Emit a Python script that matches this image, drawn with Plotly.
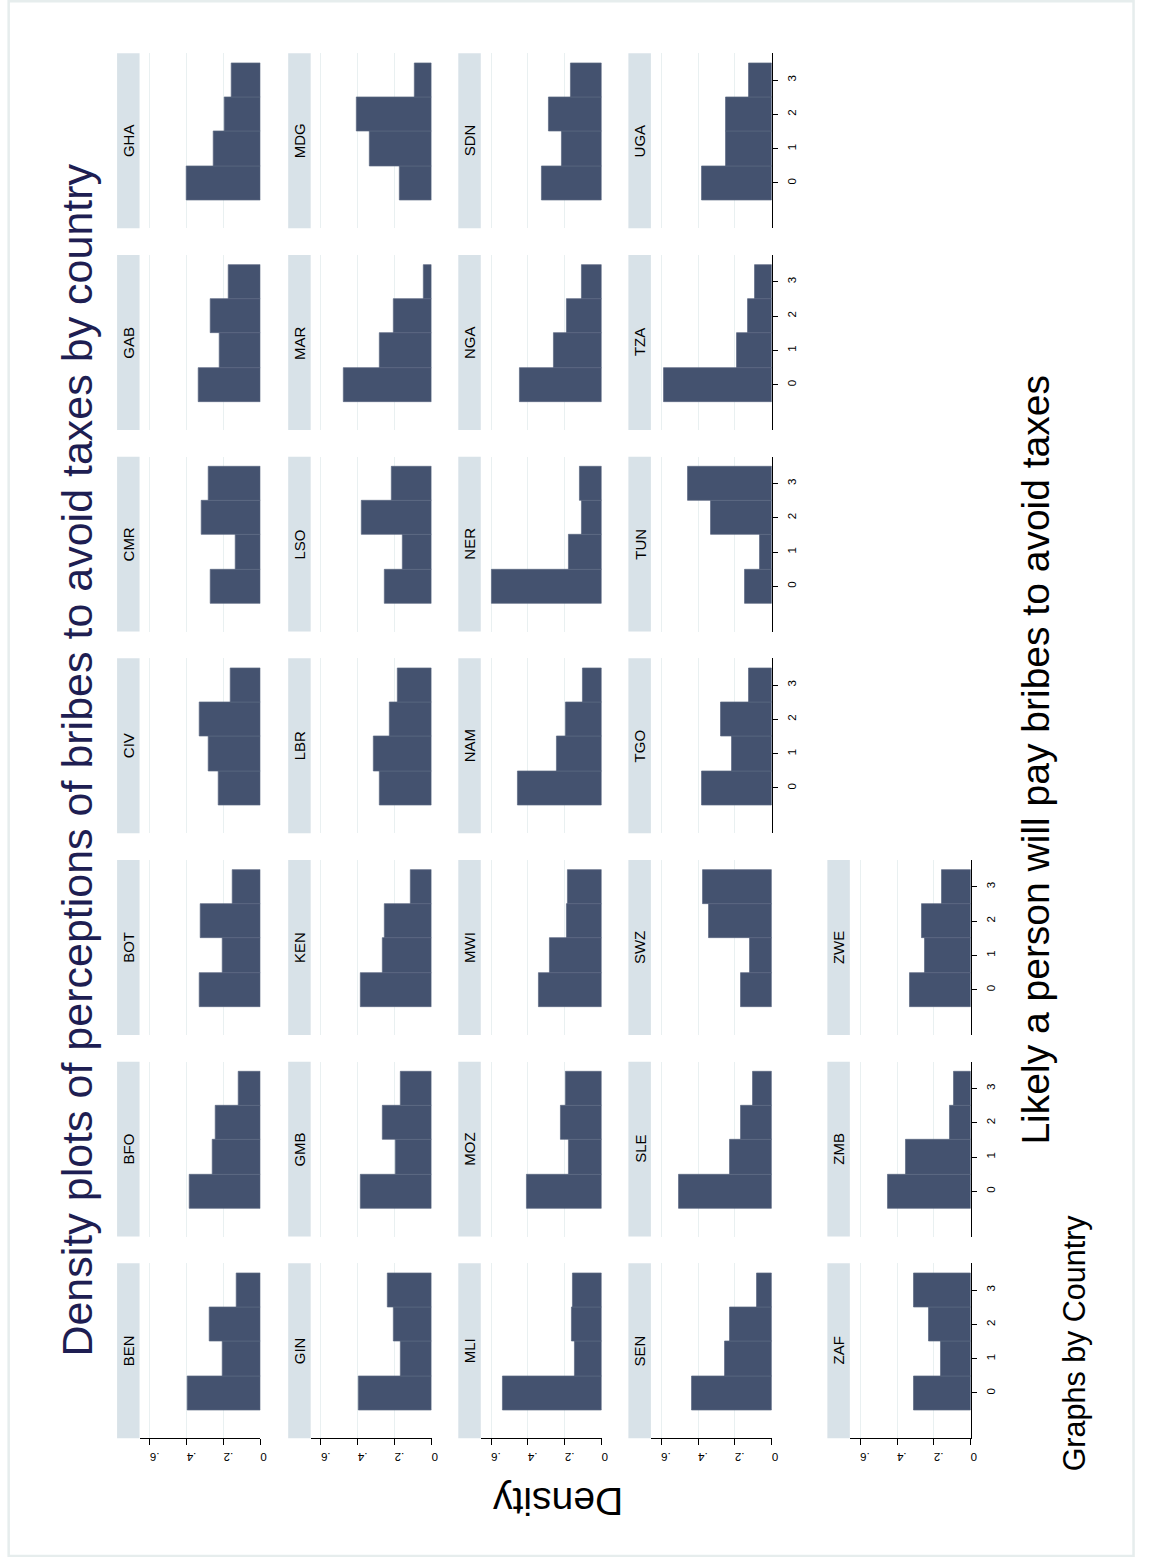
import plotly.graph_objects as go

# Survey answer bins (x of each histogram) and tick labels
bins = [0, 1, 2, 3]
bin_ticks = ["0", "1", "2", "3"]
density_ticks = [0, 0.2, 0.4, 0.6]
density_ticktext = ["0", ".2", ".4", ".6"]

countries = [
    "BEN", "BFO", "BOT", "CIV", "CMR", "GAB", "GHA",
    "GIN", "GMB", "KEN", "LBR", "LSO", "MAR", "MDG",
    "MLI", "MOZ", "MWI", "NAM", "NER", "NGA", "SDN",
    "SEN", "SLE", "SWZ", "TGO", "TUN", "TZA", "UGA",
    "ZAF", "ZMB", "ZWE",
]

# Density of each answer bin, aligned with `countries`
density_bin0 = [0.395, 0.384, 0.328, 0.227, 0.272, 0.337, 0.400,
                0.398, 0.384, 0.384, 0.281, 0.254, 0.475, 0.174,
                0.534, 0.405, 0.342, 0.455, 0.597, 0.443, 0.324,
                0.435, 0.505, 0.167, 0.377, 0.146, 0.586, 0.377,
                0.307, 0.449, 0.330]
density_bin1 = [0.205, 0.258, 0.205, 0.281, 0.135, 0.222, 0.256,
                0.168, 0.192, 0.263, 0.315, 0.158, 0.281, 0.337,
                0.147, 0.176, 0.283, 0.246, 0.181, 0.258, 0.217,
                0.255, 0.226, 0.117, 0.214, 0.065, 0.190, 0.248,
                0.162, 0.352, 0.251]
density_bin2 = [0.274, 0.243, 0.323, 0.330, 0.321, 0.270, 0.193,
                0.204, 0.263, 0.254, 0.228, 0.378, 0.203, 0.409,
                0.161, 0.224, 0.190, 0.195, 0.109, 0.188, 0.289,
                0.225, 0.165, 0.341, 0.277, 0.332, 0.131, 0.248,
                0.226, 0.111, 0.264]
density_bin3 = [0.130, 0.117, 0.150, 0.160, 0.279, 0.175, 0.157,
                0.240, 0.167, 0.111, 0.183, 0.215, 0.043, 0.090,
                0.159, 0.197, 0.186, 0.102, 0.116, 0.109, 0.167,
                0.081, 0.104, 0.376, 0.126, 0.455, 0.090, 0.124,
                0.307, 0.090, 0.158]

W, H = 1149, 1557
BAR = "#44526f"
BAR_EDGE = "#5a6781"
STRIP = "#d8e2e8"
GRID = "#e9f0f1"
FONT = "Liberation Sans, Arial, Helvetica, sans-serif"


def px_x(x):
    return x / W


def px_y(y):
    return 1 - y / H


# Panel placement (page is laid out sideways: original rows run left→right,
# original columns run bottom→top)
plot_left = [140.3, 312.3, 483.3, 654.3, 854.3]
plot_width = 121.5
strip_width = 22.6
unit_px = 201.67          # vertical pitch between panels
zero_first = 1393.0       # pixel row of bin 0 in the lowest panels
ppu = 34.3                # pixels per bin along the value axis
val_range = [-1.32, 3.78]
dens_range = [0.656, 0]

fig = go.Figure()
shapes = []
annotations = []
layout_axes = {}

for i, name in enumerate(countries):
    r, c = divmod(i, 7)
    n = i + 1
    xa = "x" if n == 1 else f"x{n}"
    ya = "y" if n == 1 else f"y{n}"
    xkey = "xaxis" if n == 1 else f"xaxis{n}"
    ykey = "yaxis" if n == 1 else f"yaxis{n}"

    left = plot_left[r]
    right = left + plot_width
    zero_y = zero_first - unit_px * c
    top = zero_y - val_range[1] * ppu
    bottom = zero_y - val_range[0] * ppu

    vals = [density_bin0[i], density_bin1[i], density_bin2[i], density_bin3[i]]
    fig.add_trace(go.Bar(
        x=vals, y=bins, orientation="h", width=1,
        marker=dict(color=BAR, line=dict(color=BAR_EDGE, width=0.7)),
        xaxis=xa, yaxis=ya, showlegend=False, hoverinfo="skip",
    ))

    show_dens = (c == 0)
    show_val = (r == 4) or (r == 3 and c >= 3)

    layout_axes[xkey] = dict(
        domain=[px_x(left), px_x(right)], anchor=ya,
        range=dens_range, fixedrange=True,
        tickvals=density_ticks, ticktext=density_ticktext,
        showgrid=True, gridcolor=GRID, gridwidth=1.2, zeroline=False,
        showline=show_dens, linecolor="#000000", linewidth=1,
        ticks="outside" if show_dens else "", ticklen=6, tickcolor="#000000",
        showticklabels=show_dens, tickangle=180, ticklabelstandoff=5,
        tickfont=dict(family=FONT, size=11.5, color="#000000"),
        side="bottom",
    )
    layout_axes[ykey] = dict(
        domain=[px_y(bottom), px_y(top)], anchor=xa,
        range=val_range, fixedrange=True,
        tickvals=bins, ticktext=bin_ticks,
        showgrid=False, zeroline=False,
        showline=show_val, linecolor="#000000", linewidth=1,
        ticks="outside" if show_val else "", ticklen=5, tickcolor="#000000",
        showticklabels=show_val, tickangle=-90, ticklabelstandoff=4,
        tickfont=dict(family=FONT, size=11.5, color="#000000"),
        side="right",
    )

    # Country strip along the panel's top edge (left side here)
    s_left = left - strip_width
    shapes.append(dict(
        type="rect", xref="paper", yref="paper",
        x0=px_x(s_left), x1=px_x(left), y0=px_y(bottom), y1=px_y(top),
        fillcolor=STRIP, line=dict(width=0), layer="below",
    ))
    annotations.append(dict(
        text=name, xref="paper", yref="paper",
        x=px_x(s_left + strip_width / 2), y=px_y((top + bottom) / 2),
        xanchor="center", yanchor="middle", showarrow=False, textangle=-90,
        font=dict(family=FONT, size=15, color="#000000"),
    ))

# Titles and notes
annotations += [
    dict(text="Density plots of perceptions of bribes to avoid taxes by country",
         xref="paper", yref="paper", x=px_x(77), y=px_y(760),
         xanchor="center", yanchor="middle", showarrow=False, textangle=-90,
         font=dict(family=FONT, size=43, color="#1e1e52")),
    dict(text="Likely a person will pay bribes to avoid taxes",
         xref="paper", yref="paper", x=px_x(1040), y=px_y(760),
         xanchor="center", yanchor="middle", showarrow=False, textangle=-90,
         font=dict(family=FONT, size=39, color="#000000")),
    dict(text="Density",
         xref="paper", yref="paper", x=px_x(561), y=px_y(1502),
         xanchor="center", yanchor="middle", showarrow=False, textangle=180,
         font=dict(family=FONT, size=39, color="#000000")),
    dict(text="Graphs by Country",
         xref="paper", yref="paper", x=px_x(1080), y=px_y(1343),
         xanchor="center", yanchor="middle", showarrow=False, textangle=-90,
         font=dict(family=FONT, size=30.5, color="#000000")),
]

# Light frame around the whole graph
shapes.append(dict(
    type="rect", xref="paper", yref="paper",
    x0=px_x(8.7), x1=px_x(1139.5), y0=px_y(1556), y1=px_y(1.2),
    line=dict(color="#e6eded", width=2.5), fillcolor="rgba(0,0,0,0)",
))

fig.update_layout(
    width=W, height=H,
    margin=dict(l=0, r=0, t=0, b=0),
    paper_bgcolor="#ffffff", plot_bgcolor="#ffffff",
    bargap=0, showlegend=False,
    shapes=shapes, annotations=annotations,
    **layout_axes,
)

fig.write_html("out.html")
